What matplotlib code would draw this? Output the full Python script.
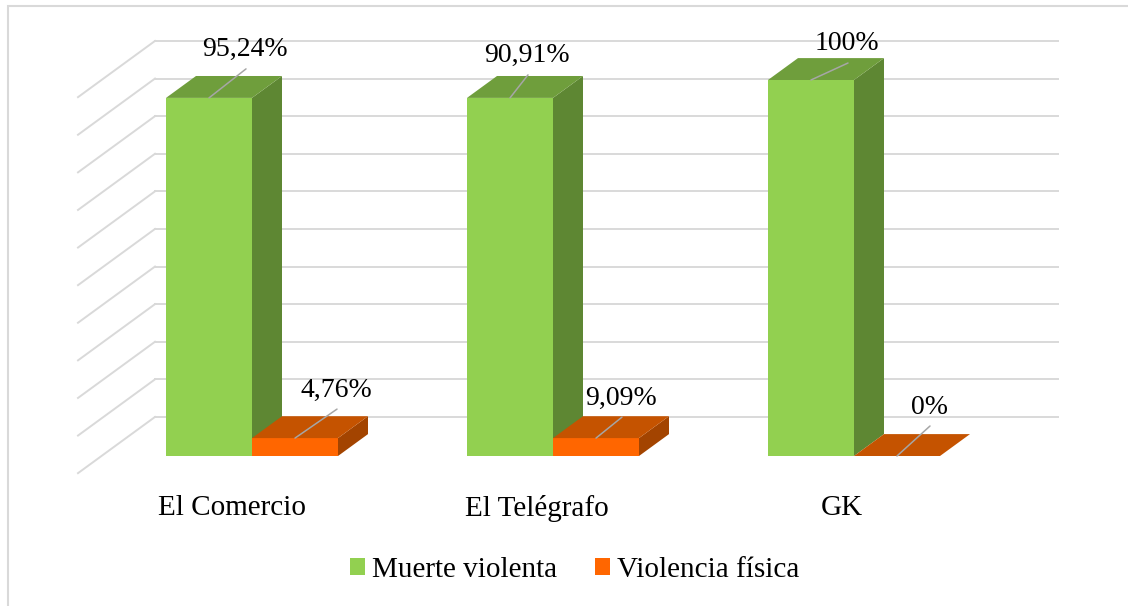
import numpy as np
import matplotlib
matplotlib.use('Agg')
import matplotlib.pyplot as plt
from matplotlib.patches import Polygon, Patch, Rectangle

# datos
categorias = ['El Comercio', 'El Telégrafo', 'GK']
series = ['Muerte violenta', 'Violencia física']
muerte = [95.24, 95.24, 100]          # alturas tal como se ven en las barras
violencia = [4.76, 4.76, 0]
etiquetas_muerte = ['95,24%', '90,91%', '100%']
etiquetas_violencia = ['4,76%', '9,09%', '0%']
niveles = np.arange(0, 101, 10)

# colores (frente, tapa, lado)
verde = ('#92D050', '#6F9E3C', '#5E8733')
naranja = ('#FF6600', '#C55300', '#A34400')
gris = '#D9D9D9'

plt.rcParams['font.family'] = ['Liberation Serif', 'DejaVu Serif']

W, H = 1128, 606
fig = plt.figure(figsize=(W / 100, H / 100), dpi=100)
ax = fig.add_axes([101.5 / W, 150 / H, 903 / W, 376 / H])
ax.set_xlim(-0.5, 2.5)
ax.set_ylim(0, 100)
ax.axis('off')

# perspectiva: desplazamiento en pixeles hacia el fondo
PX_X = 903 / 3
PX_Y = 376 / 100
PEND = 0.73
FRENTE, FONDO_BARRA, PARED = -23.5, 30, 53.5
ancho = 86 / 301


def proj(x, v, d):
    return x + d / PX_X, v + d * PEND / PX_Y


# marco
fig.patches.append(Rectangle((7.5 / W, -0.1), 1.2, 1 - 5.5 / H + 0.1,
                             transform=fig.transFigure, fill=False,
                             edgecolor=gris, linewidth=1.5))

# rejilla de pared y lateral
for v in niveles:
    a = proj(-0.5, v, PARED)
    b = proj(2.5, v, PARED)
    c = proj(-0.5, v, FRENTE)
    ax.plot([a[0], b[0]], [a[1], b[1]], color=gris, lw=1.4, zorder=1, clip_on=False)
    ax.plot([c[0], a[0]], [c[1], a[1]], color=gris, lw=1.4, zorder=1, clip_on=False)

# barras
x = np.arange(len(categorias))
for s, (vals, cols) in enumerate([(muerte, verde), (violencia, naranja)]):
    izq = x - ancho + s * ancho
    ax.bar(izq, vals, width=ancho, align='edge', color=cols[0], linewidth=0,
           zorder=3)
    for x0, v in zip(izq, vals):
        x1 = x0 + ancho
        tapa = [proj(x0, v, 0), proj(x1, v, 0), proj(x1, v, FONDO_BARRA),
                proj(x0, v, FONDO_BARRA)]
        lado = [proj(x1, 0, 0), proj(x1, v, 0), proj(x1, v, FONDO_BARRA),
                proj(x1, 0, FONDO_BARRA)]
        ax.add_patch(Polygon(lado, closed=True, facecolor=cols[2], lw=0,
                             zorder=3, clip_on=False))
        ax.add_patch(Polygon(tapa, closed=True, facecolor=cols[1], lw=0,
                             zorder=3, clip_on=False))

# etiquetas de datos con linea guia (desplazamientos en pixeles)
desp = [[(36, 48), (17, 42), (36, 36)],
        [(41, 48), (25, 40), (32, 49)]]
for s, (vals, etqs) in enumerate([(muerte, etiquetas_muerte),
                                   (violencia, etiquetas_violencia)]):
    centros = x - ancho / 2 + s * ancho
    for i, (xc, v, t) in enumerate(zip(centros, vals, etqs)):
        dx, dy = desp[s][i]
        ax.annotate('', xy=(xc, v), xytext=(dx + 1, dy - 19),
                    textcoords='offset pixels',
                    arrowprops=dict(arrowstyle='-', color='#A6A6A6', lw=1.1,
                                    shrinkA=0, shrinkB=0),
                    zorder=4, annotation_clip=False)
        ax.annotate(t, xy=(xc, v), xytext=(dx, dy), textcoords='offset pixels',
                    ha='center', va='center', fontsize=20, color='black',
                    zorder=5, annotation_clip=False)

# categorias
for i, c in enumerate(categorias):
    px, py = proj(i, 0, FRENTE)
    ax.annotate(c, xy=(px, py), xytext=(3 + 4 * i, -35),
                textcoords='offset pixels', ha='center', va='center',
                fontsize=21, annotation_clip=False)

# leyenda
manejadores = [Patch(facecolor=verde[0]), Patch(facecolor=naranja[0])]
fig.legend(manejadores, series, loc='center', bbox_to_anchor=(575 / W, 1 - 570 / H),
           ncol=2, frameon=False, fontsize=21, handlelength=0.5,
           handleheight=0.5, handletextpad=0.25, columnspacing=1.3)

fig.savefig('out.png', dpi=100)
